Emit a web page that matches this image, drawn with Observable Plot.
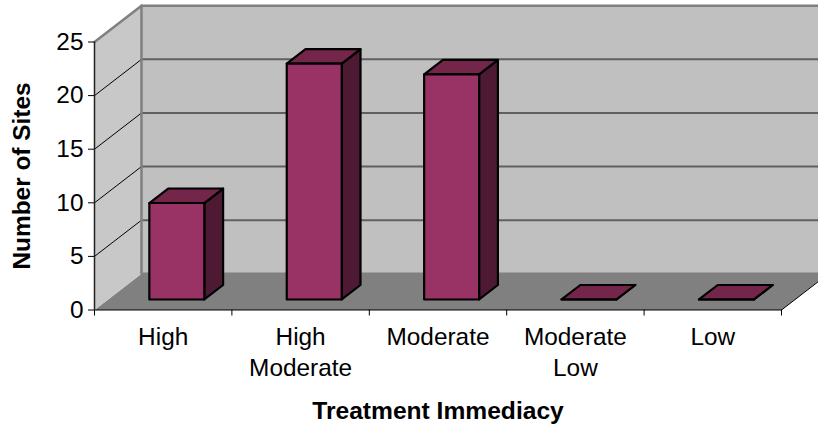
<!DOCTYPE html>
<html><head><meta charset="utf-8">
<script src="https://cdn.jsdelivr.net/npm/d3@7"></script>
<script src="https://cdn.jsdelivr.net/npm/@observablehq/plot@0.6"></script>
<style>html,body{margin:0;padding:0;background:#fff;overflow:hidden}svg{display:block}</style>
</head><body><div id="chart"></div>
<script>
const categories = ["High", "High\nModerate", "Moderate", "Moderate\nLow", "Low"];
const values = [9, 22, 21, 0, 0];
const yTicks = [0, 5, 10, 15, 20, 25];
const xTitle = "Treatment Immediacy";
const yTitle = "Number of Sites";

// Oblique projection of the 3D box, in data units of the x and y scales.
const depthX = 0.342, depthY = 3.38;
const barPad = 0.3, depthNear = 0.29, depthFar = 0.69, floorDepth = 1.035;
const P = (x, y, d = 0) => ({x: x + d * depthX, y: y + d * depthY});
const poly = (id, pts) => pts.map(p => ({id, ...p}));
const n = categories.length, yMax = yTicks[yTicks.length - 1];

const backWall = poly("b", [P(0, 0, 1), P(n, 0, 1), P(n, yMax, 1), P(0, yMax, 1)]);
const sideWall = poly("s", [P(0, 0), P(0, 0, 1), P(0, yMax, 1), P(0, yMax)]);
const floorPlane = poly("f", [P(0, 0), P(n, 0), P(n, 0, floorDepth), P(0, 0, floorDepth)]);

const side = [], lid = [], front = [];
values.forEach((v, i) => {
  const a = i + barPad, b = i + 1 - barPad;
  front.push(...poly(i, [P(a, 0, depthNear), P(b, 0, depthNear), P(b, v, depthNear), P(a, v, depthNear)]));
  side.push(...poly(i, [P(b, 0, depthNear), P(b, 0, depthFar), P(b, v, depthFar), P(b, v, depthNear)]));
  lid.push(...poly(i, [P(a, v, depthNear), P(b, v, depthNear), P(b, v, depthFar), P(a, v, depthFar)]));
});

const seg = (id, a, b) => poly(id, [a, b]);
const wallGrid = yTicks.slice(1, -1).flatMap(t => seg(t, P(0, t), P(0, t, 1)));
const backGrid = yTicks.slice(1, -1).flatMap(t => seg(t, P(0, t, 1), P(n, t, 1)));
const xy = {x: "x", y: "y", z: "id"};
const font = "Liberation Sans, Arial, sans-serif";

const chart = Plot.plot({
  width: 818, height: 430,
  marginLeft: 94, marginRight: 37, marginTop: 41.5, marginBottom: 120.5,
  style: {fontFamily: font, background: "#fff", color: "#000"},
  x: {domain: [0, n]},
  y: {domain: [0, yMax]},
  marks: [
    Plot.line(backWall, {...xy, curve: "linear-closed", fill: "#c0c0c0"}),
    Plot.line(floorPlane, {...xy, curve: "linear-closed", fill: "#808080"}),
    Plot.line(sideWall, {...xy, curve: "linear-closed", fill: "#c8c8c8"}),
    Plot.line(backGrid, {...xy, stroke: "#606060", strokeWidth: 2}),
    Plot.line(wallGrid, {...xy, stroke: "#000", strokeWidth: 1}),
    Plot.line(seg("t", P(0, yMax), P(0, yMax, 1)).concat(seg("u", P(0, yMax, 1), P(n, yMax, 1)), seg("v", P(0, 0, 1), P(0, yMax, 1))),
      {...xy, stroke: "#808080", strokeWidth: 2.5}),
    Plot.line(seg("r", P(n, 0), P(n, 0, 1)), {...xy, stroke: "#000", strokeWidth: 1}),
    Plot.line(side, {...xy, curve: "linear-closed", fill: "#4d1933", stroke: "#000", strokeWidth: 2.2}),
    Plot.line(lid, {...xy, curve: "linear-closed", fill: "#732649", stroke: "#000", strokeWidth: 2.2}),
    Plot.line(front, {...xy, curve: "linear-closed", fill: "#993366", stroke: "#000", strokeWidth: 2.2}),
    Plot.ruleY([0], {stroke: "#000"}),
    Plot.ruleX([0], {stroke: "#222", strokeWidth: 1.5}),
    Plot.axisY({ticks: yTicks, tickSize: 6, tickPadding: 5, fontSize: 24.4, label: null, tickFormat: d => d}),
    Plot.axisX({ticks: d3.range(n + 1), tickSize: 6, tickFormat: () => "", label: null}),
    Plot.text(categories, {x: (d, i) => i + 0.5, y: () => 0, dy: 13, lineAnchor: "top", lineHeight: 1.27, fontSize: 24.4}),
    Plot.text([xTitle], {frameAnchor: "bottom", fontSize: 24.6, fontWeight: "bold", lineAnchor: "bottom", dy: 109}),
    Plot.text([yTitle], {frameAnchor: "left", textAnchor: "middle", dx: -72, rotate: -90, fontSize: 24.4, fontWeight: "bold"})
  ]
});
document.getElementById("chart").append(chart);
</script></body></html>
